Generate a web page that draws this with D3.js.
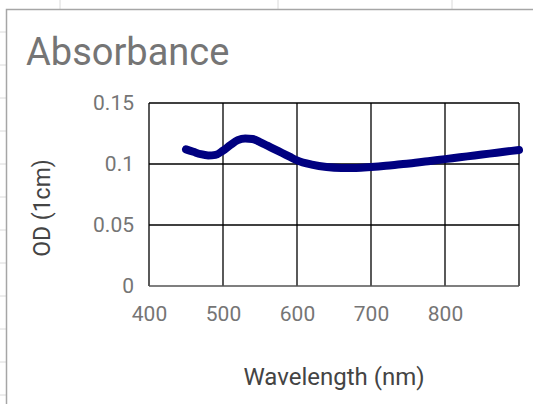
<!DOCTYPE html>
<html>
<head>
<meta charset="utf-8">
<script src="https://cdn.jsdelivr.net/npm/d3@7"></script>
<style>
  body { margin: 0; background: #fff; }
  svg { display: block; font-family: Roboto, sans-serif; }
</style>
</head>
<body>
<div id="chart"></div>
<script>
// spectrum readings
const wavelengths = [450, 460, 470, 480, 490, 500, 510, 520, 530, 540, 550, 560, 570, 580, 590, 600,
  620, 640, 660, 680, 700, 720, 740, 760, 780, 800, 820, 840, 860, 880, 900];
const odValues = [0.112, 0.110, 0.108, 0.107, 0.1075, 0.111, 0.1155, 0.1195, 0.121, 0.1205, 0.118, 0.115, 0.112, 0.109, 0.106, 0.103,
  0.0995, 0.0975, 0.0968, 0.0968, 0.0975, 0.0985, 0.0998, 0.101, 0.1025, 0.104, 0.1055, 0.107, 0.1085, 0.110, 0.1115];
const xTicks = [400, 500, 600, 700, 800];
const xGrid = [400, 500, 600, 700, 800, 900];
const yTicks = [0, 0.05, 0.1, 0.15];

const width = 533, height = 404;
const svg = d3.select("#chart")
  .append("svg")
  .attr("width", width)
  .attr("height", height);

// spreadsheet cells behind the chart
const sheetCols = [60, 278, 452];
sheetCols.forEach(x => {
  svg.append("line")
    .attr("x1", x).attr("x2", x).attr("y1", 0).attr("y2", 9)
    .attr("stroke", "#dadada").attr("stroke-width", 1);
});
d3.range(32, 404, 33).forEach(y => {
  svg.append("line")
    .attr("x1", 0).attr("x2", 6).attr("y1", y).attr("y2", y)
    .attr("stroke", "#dadada").attr("stroke-width", 1);
});

// chart frame
svg.append("rect")
  .attr("x", 6.5).attr("y", 9.5)
  .attr("width", 540).attr("height", 410)
  .attr("fill", "#fff")
  .attr("stroke", "#a6a6a6")
  .attr("stroke-width", 1.5);

const plotL = 149, plotR = 519, plotT = 103, plotB = 286;

const x = d3.scaleLinear().domain([400, 900]).range([plotL, plotR]);
const y = d3.scaleLinear().domain([0, 0.15]).range([plotB, plotT]);

// grid
svg.append("g")
  .selectAll("line")
  .data(xGrid)
  .join("line")
  .attr("x1", d => x(d)).attr("x2", d => x(d))
  .attr("y1", plotT).attr("y2", plotB)
  .attr("stroke", "#000").attr("stroke-width", 1.3);

svg.append("g")
  .selectAll("line")
  .data(yTicks)
  .join("line")
  .attr("x1", plotL).attr("x2", plotR)
  .attr("y1", d => y(d)).attr("y2", d => y(d))
  .attr("stroke", d => d === 0 ? "#555" : "#000").attr("stroke-width", 1.3);

// axes (labels only)
const xAxis = svg.append("g")
  .attr("transform", `translate(0, ${plotB})`)
  .call(d3.axisBottom(x).tickValues(xTicks).tickSize(0).tickPadding(20).tickFormat(d3.format("d")));
const yAxis = svg.append("g")
  .attr("transform", `translate(${plotL}, 0)`)
  .call(d3.axisLeft(y).tickValues(yTicks).tickSize(0).tickPadding(15).tickFormat(d => d === 0 ? "0" : String(d)));

[xAxis, yAxis].forEach(g => {
  g.select(".domain").remove();
  g.selectAll("text")
    .attr("fill", "#757575")
    .style("font-size", "21px")
    .style("font-family", "Roboto, sans-serif");
});

// curve
const line = d3.line()
  .x((d, i) => x(wavelengths[i]))
  .y(d => y(d))
  .curve(d3.curveMonotoneX);

svg.append("path")
  .datum(odValues)
  .attr("fill", "none")
  .attr("stroke", "#000080")
  .attr("stroke-width", 8)
  .attr("stroke-linecap", "round")
  .attr("stroke-linejoin", "round")
  .attr("d", line);

// titles
svg.append("text")
  .attr("x", 26)
  .attr("y", 65)
  .attr("fill", "#757575")
  .style("font-size", "38px")
  .text("Absorbance");

svg.append("text")
  .attr("transform", "rotate(-90)")
  .attr("x", -208)
  .attr("y", 50)
  .attr("text-anchor", "middle")
  .attr("fill", "#444")
  .style("font-size", "23px")
  .text("OD (1cm)");

svg.append("text")
  .attr("x", 334)
  .attr("y", 385)
  .attr("text-anchor", "middle")
  .attr("fill", "#444")
  .style("font-size", "24px")
  .text("Wavelength (nm)");
</script>
</body>
</html>
